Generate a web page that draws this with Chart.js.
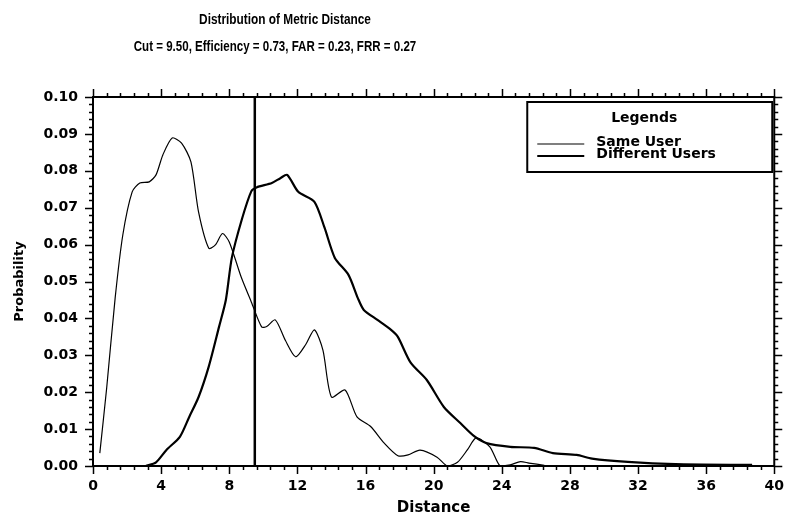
<!DOCTYPE html>
<html>
<head>
<meta charset="utf-8">
<title>Distribution of Metric Distance</title>
<script src="https://cdn.jsdelivr.net/npm/chart.js"></script>
<style>
  body { margin: 0; background: #fff; }
</style>
</head>
<body>
<canvas id="distChart" width="796" height="517"></canvas>
<script>
// values
const cutValue = 9.50;
const titleText = 'Distribution of Metric Distance';
const subtitleText = 'Cut = 9.50, Efficiency = 0.73, FAR = 0.23, FRR = 0.27';

const sameUserX = [0.4, 0.8, 1.3, 1.75, 2.3, 2.75, 3.3, 3.7, 4.1, 4.65, 5.2, 5.75, 6.2, 6.8, 7.2, 7.6, 8.0, 8.7, 9.3, 9.9, 10.2, 10.7, 11.3, 11.9, 12.5, 13.0, 13.5, 14.0, 14.8, 15.5, 16.3, 17.1, 17.9, 18.5, 19.2, 20.2, 20.8, 21.4, 22.0, 22.5, 23.3, 23.9, 24.5, 25.1, 25.6, 26.5];
const sameUserY = [0.0035, 0.021, 0.0455, 0.0626, 0.0743, 0.0767, 0.077, 0.0789, 0.0843, 0.0889, 0.0875, 0.0824, 0.0688, 0.059, 0.060, 0.063, 0.0607, 0.0512, 0.0444, 0.0377, 0.0378, 0.0396, 0.034, 0.0296, 0.033, 0.0369, 0.0314, 0.0187, 0.0206, 0.0133, 0.0107, 0.0062, 0.0028, 0.003, 0.0043, 0.0024, 0.0, 0.001, 0.0045, 0.0076, 0.0052, 0.0, 0.0003, 0.0012, 0.0008, 0.0002];

const diffUsersX = [3.1, 3.7, 4.3, 5.1, 5.65, 6.2, 6.8, 7.4, 7.8, 8.15, 8.75, 9.3, 9.6, 10.5, 11.0, 11.4, 12.05, 13.0, 13.6, 14.2, 15.0, 15.55, 15.9, 16.7, 17.5, 17.9, 18.65, 19.6, 20.6, 21.55, 22.4, 23.1, 24.5, 25.9, 27.0, 28.4, 29.3, 31.4, 34.2, 38.7];
const diffUsersY = [0, 0.001, 0.0043, 0.0079, 0.0133, 0.0187, 0.027, 0.0377, 0.045, 0.0564, 0.067, 0.0745, 0.0755, 0.0767, 0.078, 0.0789, 0.0743, 0.0716, 0.0645, 0.0564, 0.0518, 0.0455, 0.0423, 0.0396, 0.0369, 0.035, 0.028, 0.0233, 0.016, 0.0117, 0.008, 0.0062, 0.0052, 0.0049, 0.0035, 0.003, 0.002, 0.0011, 0.0005, 0.0003];

const xMin = 0, xMax = 40, xMajor = 4, xMinor = 0.8;
const yMin = 0, yMax = 0.10, yMajor = 0.01, yMinor = 0.002;

const toPoints = (xs, ys) => xs.map((x, i) => ({ x: x, y: ys[i] }));

const tickFont = { family: 'DejaVu Sans', weight: 'bold', size: 14 };

// frame with ticks on all four sides, majors longer than minors
const framePlugin = {
  id: 'frame',
  afterDraw(chart) {
    const { ctx, chartArea: a, scales } = chart;
    const xs = scales.x, ys = scales.y;
    ctx.save();
    ctx.strokeStyle = '#000';
    ctx.lineWidth = 2;
    ctx.strokeRect(a.left, a.top, a.right - a.left, a.bottom - a.top);
    ctx.lineWidth = 1.5;
    ctx.beginPath();
    for (let i = 0; i <= Math.round((xMax - xMin) / xMinor); i++) {
      const v = xMin + i * xMinor;
      const len = Math.abs(v / xMajor - Math.round(v / xMajor)) < 1e-6 ? 8 : 4;
      const px = Math.round(xs.getPixelForValue(v)) + 0.5;
      ctx.moveTo(px, a.bottom); ctx.lineTo(px, a.bottom + len);
      ctx.moveTo(px, a.top); ctx.lineTo(px, a.top - len);
    }
    for (let i = 0; i <= Math.round((yMax - yMin) / yMinor); i++) {
      const v = yMin + i * yMinor;
      const len = Math.abs(v / yMajor - Math.round(v / yMajor)) < 1e-6 ? 8 : 4;
      const py = Math.round(ys.getPixelForValue(v)) + 0.5;
      ctx.moveTo(a.left, py); ctx.lineTo(a.left - len, py);
      ctx.moveTo(a.right, py); ctx.lineTo(a.right + len, py);
    }
    ctx.stroke();
    ctx.restore();
  }
};

// two title lines in a condensed bold face, centred left of the canvas middle like the scan
const drawNarrow = (ctx, text, cx, cy, squeeze) => {
  ctx.save();
  ctx.translate(cx, cy);
  ctx.scale(squeeze, 1);
  ctx.fillText(text, 0, 0);
  ctx.restore();
};

const titlePlugin = {
  id: 'titles',
  afterDraw(chart) {
    const ctx = chart.ctx;
    ctx.save();
    ctx.fillStyle = '#000';
    ctx.textAlign = 'center';
    ctx.textBaseline = 'middle';
    ctx.font = 'bold 15px "Liberation Sans", Arial, sans-serif';
    drawNarrow(ctx, titleText, 285, 20, 0.79);
    drawNarrow(ctx, subtitleText, 275, 47, 0.77);
    ctx.restore();
  }
};

// boxed legend in the upper right of the plot
const legendPlugin = {
  id: 'boxLegend',
  afterDraw(chart) {
    const { ctx, chartArea: a } = chart;
    const sets = chart.data.datasets.filter(d => d.inLegend);
    const w = 245, h = 70;
    const left = a.right - 2 - w, top = a.top + 5;
    ctx.save();
    ctx.fillStyle = '#fff';
    ctx.fillRect(left, top, w, h);
    ctx.strokeStyle = '#000';
    ctx.lineWidth = 2;
    ctx.strokeRect(left, top, w, h);
    ctx.fillStyle = '#000';
    ctx.font = 'bold 14px "DejaVu Sans", sans-serif';
    ctx.textBaseline = 'middle';
    ctx.textAlign = 'center';
    ctx.fillText('Legends', left + 117, top + 16);
    ctx.textAlign = 'left';
    sets.forEach((d, i) => {
      const y = top + 42 + i * 12;
      ctx.lineWidth = d.borderWidth;
      ctx.beginPath();
      ctx.moveTo(left + 10, y);
      ctx.lineTo(left + 57, y);
      ctx.stroke();
      ctx.fillText(d.label, left + 69, y - 2);
    });
    ctx.restore();
  }
};

new Chart(document.getElementById('distChart'), {
  type: 'line',
  data: {
    datasets: [
      {
        label: 'Same User',
        data: toPoints(sameUserX, sameUserY),
        borderColor: '#000',
        borderWidth: 1.2,
        tension: 0.25,
        pointRadius: 0,
        inLegend: true
      },
      {
        label: 'Different Users',
        data: toPoints(diffUsersX, diffUsersY),
        borderColor: '#000',
        borderWidth: 2.2,
        tension: 0.25,
        pointRadius: 0,
        inLegend: true
      },
      {
        label: 'Cut',
        data: [{ x: cutValue, y: yMin }, { x: cutValue, y: yMax }],
        borderColor: '#000',
        borderWidth: 2.5,
        pointRadius: 0
      }
    ]
  },
  options: {
    responsive: false,
    animation: false,
    devicePixelRatio: 1,
    layout: { padding: { top: 97, right: 16, left: 4, bottom: 0 } },
    plugins: {
      legend: { display: false },
      title: { display: false },
      tooltip: { enabled: false }
    },
    scales: {
      x: {
        type: 'linear',
        min: xMin,
        max: xMax,
        grid: { display: false, drawTicks: false },
        border: { display: false },
        ticks: {
          stepSize: xMajor,
          padding: 12,
          color: '#000',
          font: tickFont,
          maxRotation: 0
        },
        title: {
          display: true,
          text: 'Distance',
          color: '#000',
          font: { family: 'DejaVu Sans', weight: 'bold', size: 15 },
          padding: { top: 0, bottom: 0 }
        },
        afterFit(scale) { scale.height = 51; }
      },
      y: {
        min: yMin,
        max: yMax,
        grid: { display: false, drawTicks: false },
        border: { display: false },
        ticks: {
          stepSize: yMajor,
          padding: 15,
          color: '#000',
          font: tickFont,
          callback: v => v.toFixed(2)
        },
        title: {
          display: true,
          text: 'Probability',
          color: '#000',
          font: { family: 'DejaVu Sans', weight: 'bold', size: 13 },
          padding: { top: 8, bottom: 0 }
        },
        afterFit(scale) { scale.width = 89; }
      }
    }
  },
  plugins: [framePlugin, titlePlugin, legendPlugin]
});
</script>
</body>
</html>
